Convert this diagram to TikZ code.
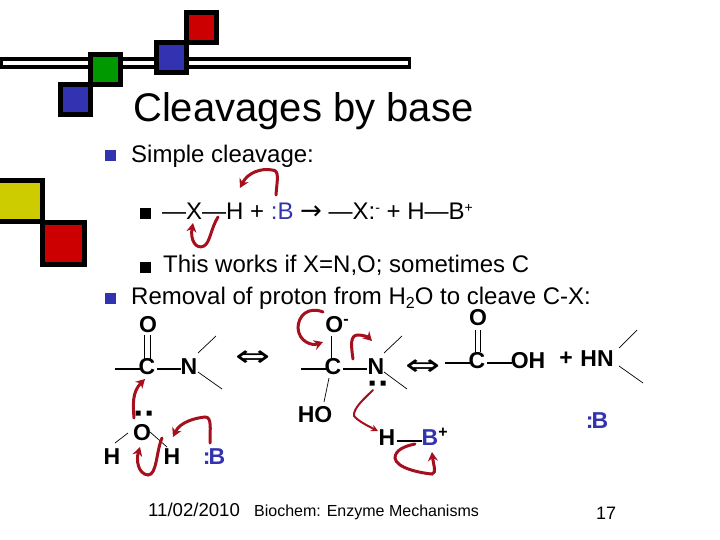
\documentclass[tikz,border=0pt]{standalone}
\usepackage{fontspec}
\setmainfont{Liberation Sans}
\newfontfamily\symfont{DejaVu Sans}
\usetikzlibrary{arrows.meta}
\definecolor{pblue}{HTML}{3333B2}
\definecolor{pred}{HTML}{CC0000}
\definecolor{pgreen}{HTML}{009900}
\definecolor{pyellow}{HTML}{CCCC00}
\definecolor{curly}{HTML}{A5101F}
\tikzset{
  square/.style={draw=black,line width=5pt,fill=#1},
  txt/.style={anchor=base west,inner sep=0pt,font=\fontsize{24}{24}\selectfont},
  atom/.style={inner sep=0pt,font=\fontsize{23}{23}\selectfont\bfseries},
  bond/.style={line width=1.4pt},
  thinbond/.style={line width=0.7pt},
  dblbond/.style={line width=1pt},
  curve/.style={draw=curly,line width=3pt,line cap=round,-{Stealth[length=9pt,width=10pt]}},
  bul/.style={minimum size=11pt,inner sep=0pt,fill=#1},
  eqv/.style={inner sep=0pt,font=\fontsize{30}{30}\symfont}
}
\begin{document}
\begin{tikzpicture}[x=1pt,y=-1pt]
\useasboundingbox (0,0) rectangle (720,540);
% decoration
\fill[black] (0,57) rectangle (411,69);
\fill[white] (3,61) rectangle (408,65);
\filldraw[square=pred] (186.5,12.5) rectangle (216.5,42.5);
\filldraw[square=pblue] (156.5,42.5) rectangle (186.5,72.5);
\filldraw[square=pgreen] (90.5,54.5) rectangle (120.5,84.5);
\filldraw[square=pblue] (60.5,84.5) rectangle (90.5,114.5);
\filldraw[square=pyellow] (-3,180.5) rectangle (42.5,222);
\filldraw[square=pred] (42.5,222.5) rectangle (84.5,264.5);
% title
\node[anchor=base west,inner sep=0pt,font=\fontsize{40}{40}\selectfont] (title) at (133,122) {Cleavages by base};
% bullets
\node[bul=pblue] (b1) at (110,155.5) {};
\node[txt] (t1) at (131,163) {Simple cleavage:};
\node[bul=black] (b2) at (145.5,213.5) {};
\node[txt] (t2) at (162,219) {—X—H + \textcolor{pblue}{:B} {\symfont\fontsize{26}{26}\selectfont→} —X:\raisebox{6pt}{\fontsize{14}{14}\selectfont -} + H—B\raisebox{7pt}{\fontsize{14}{14}\selectfont +}};
\node[bul=black] (b3) at (145.5,267) {};
\node[txt] (t3) at (163,272) {This works if X=N,O; sometimes C};
\node[bul=pblue] (b4) at (110,298.5) {};
\node[txt] (t4) at (131,304) {Removal of proton from H\raisebox{-4pt}{\fontsize{16}{16}\selectfont 2}O to cleave C-X:};
% left molecule
\node[atom] (o1) at (148,325) {O};
\node[atom] (c1) at (147,367) {C};
\node[atom] (n1) at (189,367) {N};
\node[atom] (o2) at (142,433) {O};
\node[atom] (h1) at (112,457) {H};
\node[atom] (h2) at (172,457) {H};
\node[atom,text=pblue] (b5) at (214,457) {:\kern-2pt B};
\coordinate (l1) at (115,369);
\coordinate (l2) at (216,336);
\coordinate (l3) at (222,389);
\draw[bond] (l1) -- (140,369);
\draw[bond] (157,369) -- (181,369);
\draw[dblbond] (144.5,335) -- (144.5,359) (150,335) -- (150,359);
\draw[thinbond] (198,353) -- (l2);
\draw[thinbond] (198,372) -- (l3);
\draw[thinbond] (128,433) -- (115,443);
\draw[thinbond] (150,432) -- (167,447);
\fill (135.5,410.5) rectangle (140.5,415.5) (146.5,410.5) rectangle (151.5,415.5);
\node[eqv] (e1) at (253.5,358.5) {\scalebox{1.4}[1]{⇔}};
% middle molecule
\node[atom] (o3) at (337,325) {O\raisebox{8pt}{\fontsize{16}{16}\selectfont -}};
\node[atom] (c2) at (333,367) {C};
\node[atom] (n2) at (376,367) {N};
\node[atom] (ho) at (315,415) {HO};
\coordinate (l4) at (301,369);
\coordinate (l5) at (402,336);
\coordinate (l6) at (407,389);
\draw[bond] (l4) -- (326,369);
\draw[bond] (343,369) -- (367,369);
\draw[dblbond] (331,336) -- (331,358);
\draw[thinbond] (329,378) -- (324,402);
\draw[thinbond] (384,353) -- (l5);
\draw[thinbond] (384,372) -- (l6);
\fill (369.5,380.5) rectangle (374.5,385.5) (380.5,380.5) rectangle (385.5,385.5);
\node[eqv] (e2) at (423.5,368) {\scalebox{1.4}[1]{⇔}};
% right molecule
\node[atom] (o4) at (478,318) {O};
\node[atom] (c3) at (477,361) {C};
\node[atom] (oh) at (528,361) {OH};
\node[atom] (pl) at (566,359) {+};
\node[atom] (hn) at (597,359) {HN};
\coordinate (l7) at (445,363);
\coordinate (l8) at (637,330);
\coordinate (l9) at (643,383);
\draw[bond] (l7) -- (470,363);
\draw[bond] (487,363) -- (512,363);
\draw[dblbond] (475,330) -- (475,352) (480,330) -- (480,352);
\draw[thinbond] (619,348) -- (l8);
\draw[thinbond] (619,366) -- (l9);
\node[atom,text=pblue] (b6) at (597,421) {:\kern-2pt B};
\node[atom] (h3) at (387,438) {H};
\node[atom,text=pblue] (b7) at (430,438) {B};
\node[atom] (pl2) at (443,433) {\fontsize{16}{16}\selectfont +};
\draw[bond] (397,441) -- (422,441);
% curved arrows
\draw[curve] (276,195) .. controls (277,180) and (280,170) .. (272,170) .. controls (262,168) and (248,172) .. (240,188);
\draw[curve] (218,217) .. controls (211,228) and (210,243) .. (204,246) .. controls (196,250) and (190,240) .. (193,223);
\draw[curve] (134,418) .. controls (133,405) and (132,392) .. (145,379);
\draw[curve] (210,443) .. controls (210,428) and (212,417) .. (205,417) .. controls (195,418) and (180,422) .. (173,437);
\draw[curve] (162,438) .. controls (156,452) and (157,475) .. (148,475) .. controls (138,474) and (136,460) .. (140,447);
\draw[curve] (323,312) .. controls (308,306) and (298,316) .. (298,328) .. controls (299,342) and (312,346) .. (323,342);
\draw[curve] (353,359) .. controls (351,345) and (350,335) .. (358,335) .. controls (363,335) and (368,337) .. (372,341);
\draw[curve,line width=2pt,-{Stealth[length=7pt,width=7pt]}] (373,390) .. controls (365,398) and (353,408) .. (354,416) .. controls (358,421) and (368,426) .. (378,431);
\draw[curve] (415,444) .. controls (405,446) and (395,450) .. (395,458) .. controls (396,468) and (420,473) .. (432,474) .. controls (437,474) and (433,462) .. (432,452);
% footer
\node[anchor=base west,inner sep=0pt,font=\fontsize{18.6}{18.6}\selectfont] (date) at (148,516) {11/02/2010};
\node[anchor=base west,inner sep=0pt,font=\fontsize{16}{16}\selectfont] (foot) at (254,516) {Biochem: Enzyme Mechanisms};
\node[anchor=base west,inner sep=0pt,font=\fontsize{18}{18}\selectfont] (num) at (596,519) {17};
\end{tikzpicture}
\end{document}
